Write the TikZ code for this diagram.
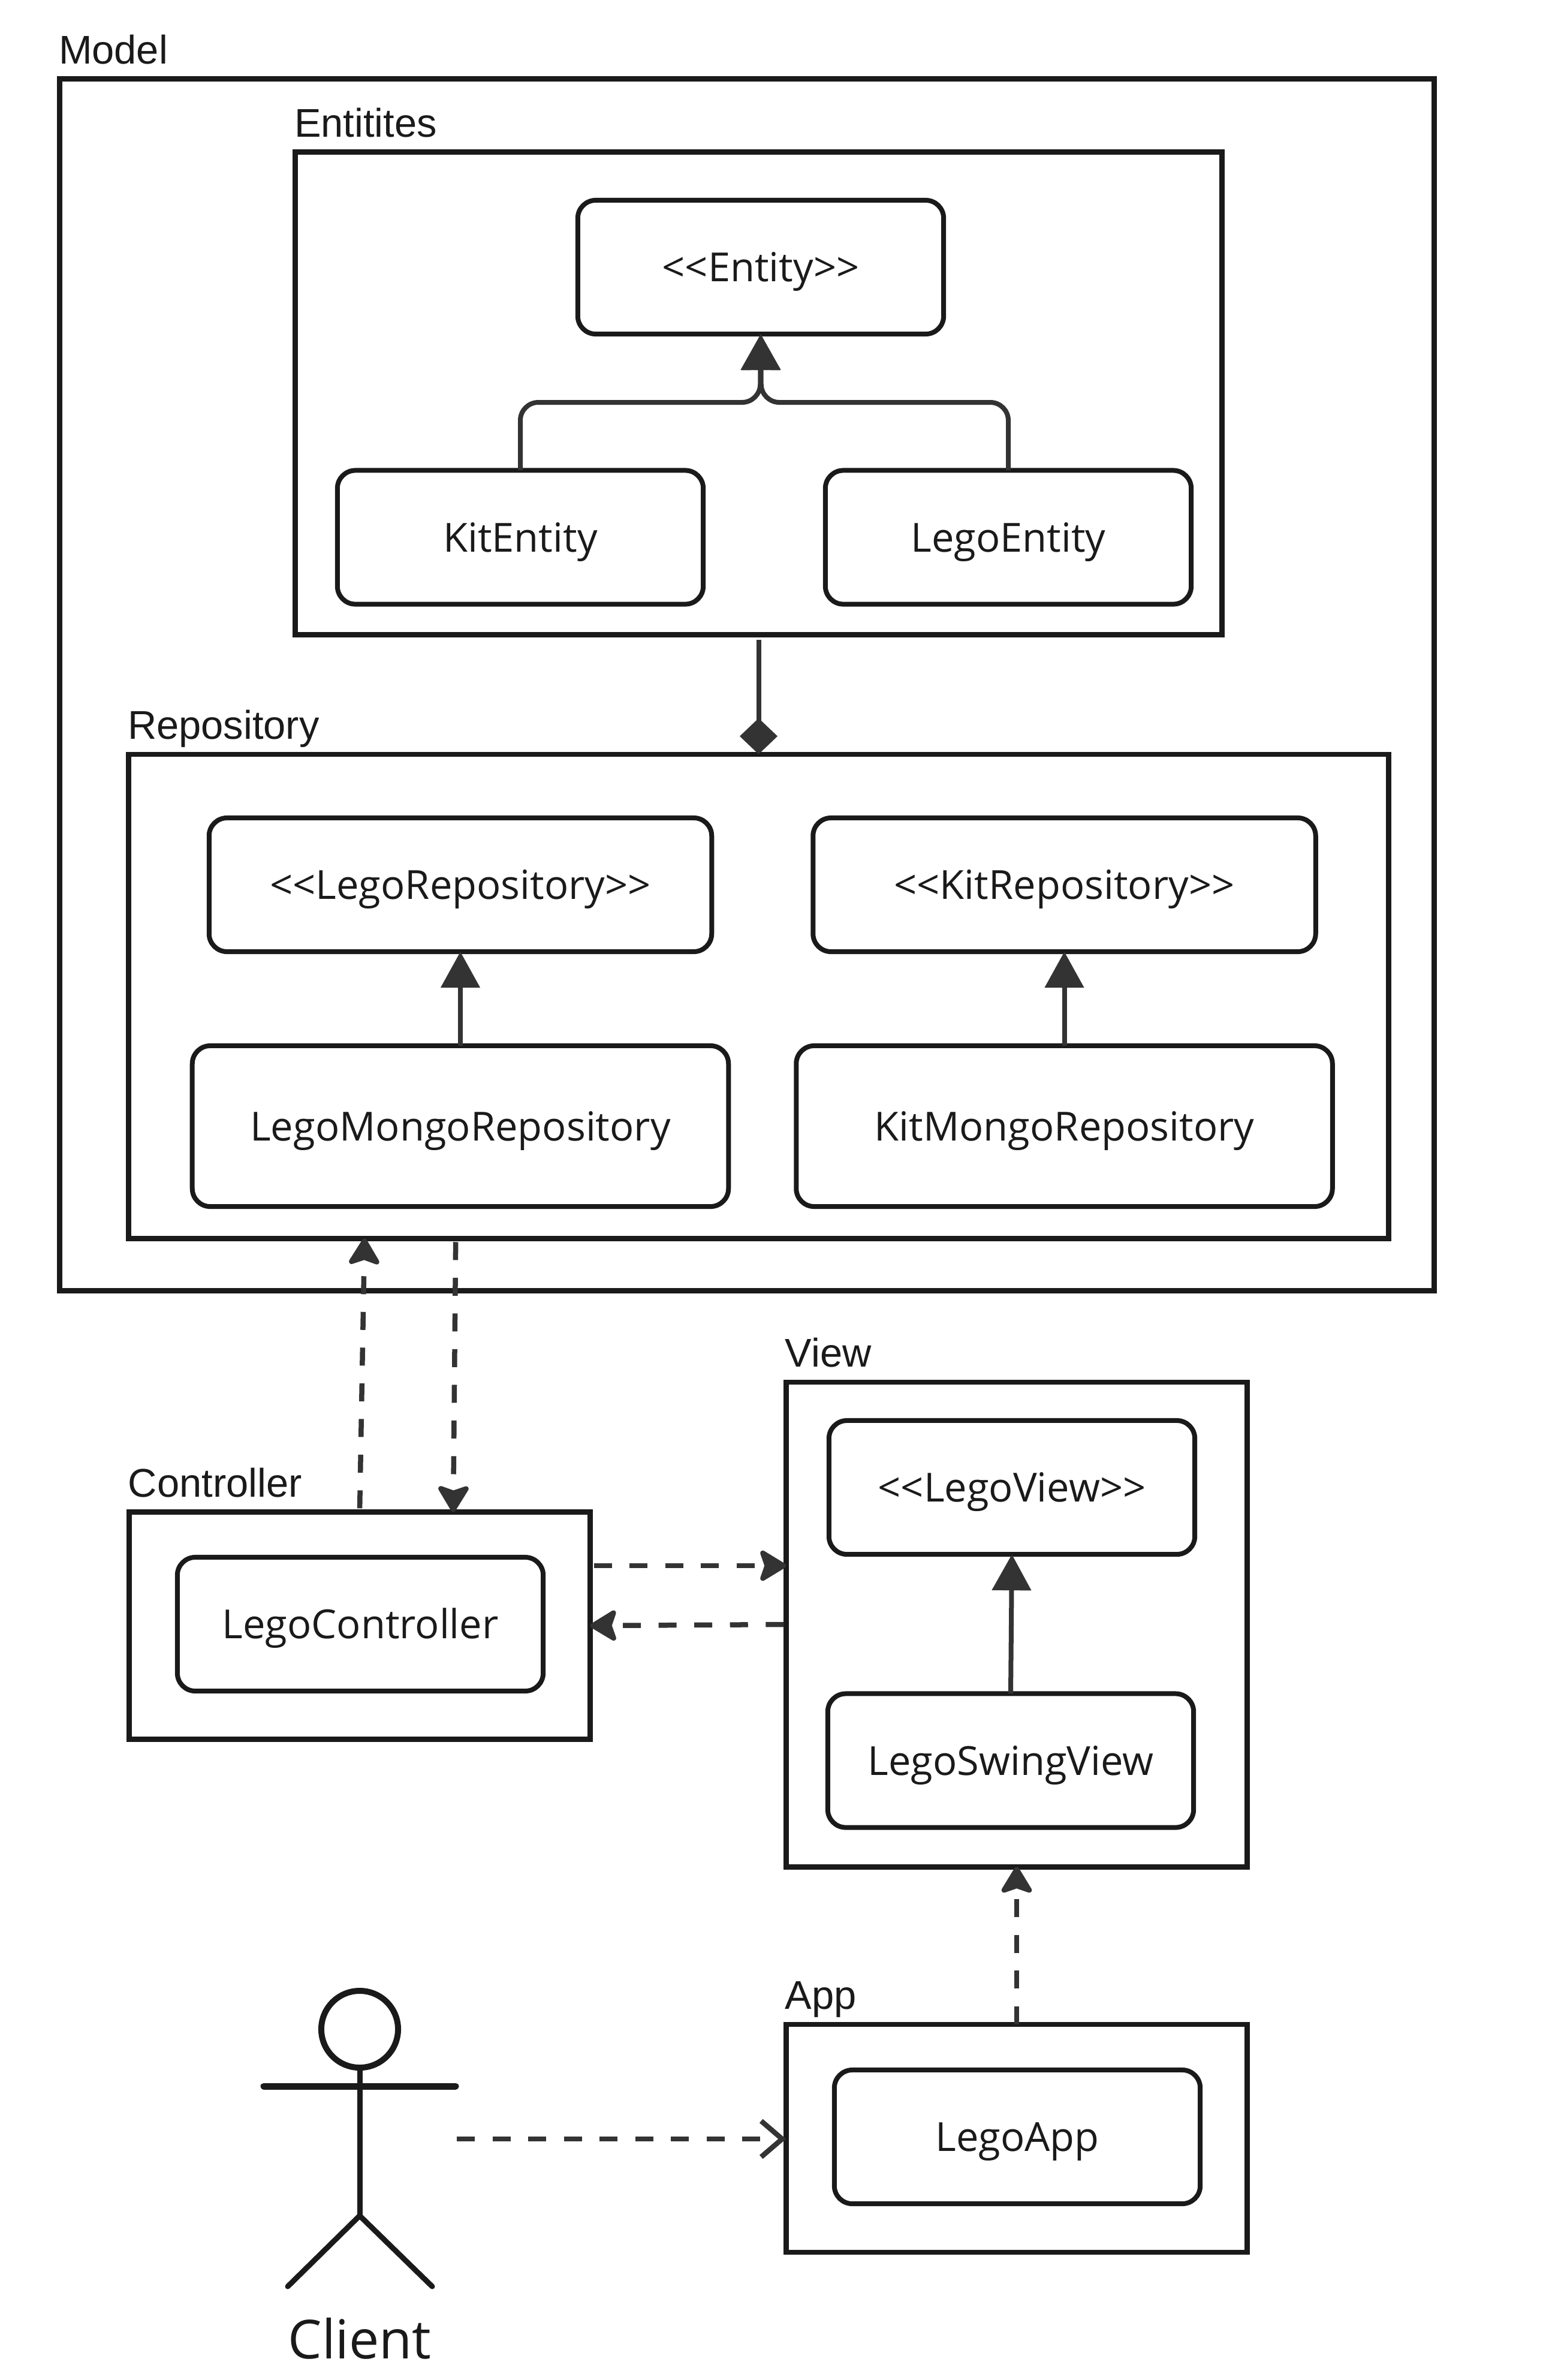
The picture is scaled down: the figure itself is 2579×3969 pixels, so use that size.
\documentclass[tikz,border=0pt]{standalone}
\usepackage{fontspec}
\setmainfont{Open Sans}
\newfontfamily\labelfont{Liberation Sans}
\usetikzlibrary{arrows.meta}
\definecolor{inkdark}{HTML}{1A1A1A}
\definecolor{inklink}{HTML}{333333}
\tikzset{
  frame/.style={draw=inkdark,line width=0.085cm,rectangle,inner sep=0pt,outer sep=0pt},
  classbox/.style={draw=inkdark,line width=0.08cm,rectangle,rounded corners=0.3cm,inner sep=0pt,outer sep=0pt,
    minimum width=6.1cm,minimum height=2.23cm,text=inkdark,font=\fontsize{19}{23}\selectfont,
    text height=0.48cm,text depth=0pt},
  framelabel/.style={anchor=base west,yshift=0.25cm,xshift=-0.02cm,inner sep=0pt,text=inkdark,
    font=\labelfont\fontsize{19}{23}\selectfont},
  solidlink/.style={draw=inklink,line width=0.08cm},
  inherit/.style={solidlink,-{Triangle[length=0.6cm,width=0.64cm]}},
  dashlink/.style={draw=inklink,line width=0.085cm,dash pattern=on 0.3cm off 0.295cm,
    -{Stealth[length=0.5cm,width=0.6cm,inset=0.1cm,round]}},
  actorline/.style={draw=inkdark,line cap=round}
}
\begin{document}
\begin{tikzpicture}[x=0.01cm,y=-0.01cm]
\useasboundingbox (0,0) rectangle (2579,3969);

\node[frame,minimum width=22.92cm,minimum height=20.2cm] (model) at (1246,1142) {};
\node[framelabel] (modellabel) at (model.north west) {Model};

\node[frame,minimum width=15.45cm,minimum height=8.05cm] (entities) at (1265.5,656) {};
\node[framelabel] (entitieslabel) at (entities.north west) {Entitites};
\node[classbox] (entity) at (1269,445.5) {<{}<Entity>{}>};
\node[classbox] (kitentity) at (868,896) {KitEntity};
\node[classbox] (legoentity) at (1682,896) {LegoEntity};

\node[frame,minimum width=21.01cm,minimum height=8.07cm] (repository) at (1265.5,1661.5) {};
\node[framelabel] (repositorylabel) at (repository.north west) {Repository};
\node[classbox,minimum width=8.38cm] (legorepo) at (768,1475.5) {<{}<LegoRepository>{}>};
\node[classbox,minimum width=8.38cm] (kitrepo) at (1775.5,1475.5) {<{}<KitRepository>{}>};
\node[classbox,minimum width=8.94cm,minimum height=2.68cm] (legomongo) at (768,1878) {LegoMongoRepository};
\node[classbox,minimum width=8.94cm,minimum height=2.68cm] (kitmongo) at (1775.5,1878) {KitMongoRepository};

\node[frame,minimum width=7.69cm,minimum height=3.79cm] (controller) at (600,2711) {};
\node[framelabel] (controllerlabel) at (controller.north west) {Controller};
\node[classbox] (legocontroller) at (601,2708.5) {LegoController};

\node[frame,minimum width=7.69cm,minimum height=8.08cm] (view) at (1696,2709) {};
\node[framelabel] (viewlabel) at (view.north west) {View};
\node[classbox] (legoview) at (1688,2480.5) {<{}<LegoView>{}>};
\node[classbox] (swingview) at (1686,2936) {LegoSwingView};

\node[frame,minimum width=7.69cm,minimum height=3.8cm] (app) at (1696,3566) {};
\node[framelabel] (applabel) at (app.north west) {App};
\node[classbox] (legoapp) at (1697,3563.5) {LegoApp};

\node[circle,draw=inkdark,line width=0.1cm,minimum size=1.28cm,inner sep=0pt,outer sep=0pt] (head) at (600,3384) {};
\coordinate (hip) at (600,3695);
\draw[actorline,line width=0.09cm] (head.south) -- (hip);
\draw[actorline,line width=0.11cm] (440,3479) -- (760,3479);
\draw[actorline,line width=0.09cm] (480,3813) -- (hip) -- (721,3813);
\node[text=inkdark,font=\fontsize{25.5}{30}\selectfont,anchor=base,inner sep=0pt] (client) at (600,3933) {Client};
\coordinate (clienthand) at (762,3567);

\draw[inherit,rounded corners=0.3cm] (kitentity.north) -- (kitentity.north |- 0,671) -- (1268,671) -- (entity.south);
\draw[inherit,rounded corners=0.3cm] (legoentity.north) -- (legoentity.north |- 0,671) -- (1270,671) -- (entity.south);
\draw[solidlink,-{Diamond[length=0.6cm,width=0.63cm]},shorten <=0.08cm] (entities.south) -- (repository.north);
\draw[inherit] (legomongo.north) -- (legorepo.south);
\draw[inherit] (kitmongo.north) -- (kitrepo.south);
\draw[inherit] (swingview.north) -- (legoview.south);

\draw[dashlink,shorten <=0.06cm] (controller.north) -- ([xshift=-6.57cm]repository.south);
\draw[dashlink,shorten <=0.06cm] ([xshift=-5.05cm]repository.south) -- ([xshift=1.56cm]controller.north);
\draw[dashlink,shorten <=0.06cm] (controller.east |- 0,2611) -- (view.west |- 0,2611);
\draw[dashlink,shorten <=0.04cm] (view.west |- 0,2709) -- (controller.east |- 0,2711);
\draw[dashlink] (app.north) -- (view.south);
\draw[dashlink,-{Straight Barb[length=0.35cm,width=0.6cm]}] (clienthand) -- (app.west |- clienthand);
\end{tikzpicture}
\end{document}
